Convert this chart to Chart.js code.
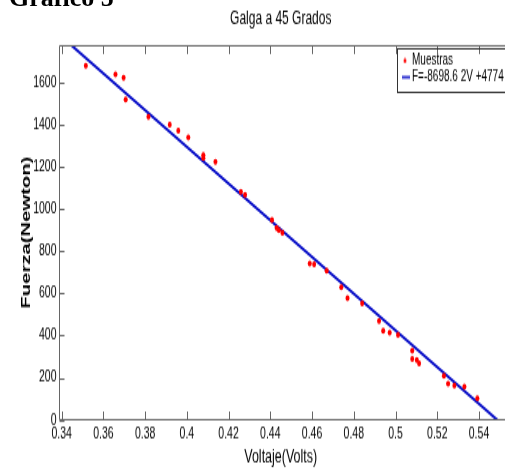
<!DOCTYPE html>
<html>
<head>
<meta charset="utf-8">
<script src="https://cdn.jsdelivr.net/npm/chart.js@4.4.1/dist/chart.umd.min.js"></script>
<style>
html,body{margin:0;padding:0;background:#fff;overflow:hidden;width:505px;height:470px;}
#wrap{position:absolute;left:0;top:0;width:505px;height:313px;transform-origin:0 0;transform:scale(1,1.5016);}
#heading{position:absolute;left:9px;top:-15px;font:bold 26px "Liberation Serif","Times New Roman",serif;line-height:26px;color:#000;white-space:nowrap;z-index:2;}
</style>
</head>
<body>
<div id="wrap"><canvas id="c" width="505" height="313" style="width:505px;height:313px"></canvas></div>
<div id="heading">Gráfico 5</div>
<script>
// ---- data ----
const voltaje = [0.3516,0.3658,0.3697,0.3707,0.3816,0.3918,0.3959,0.4007,0.4079,0.4079,0.4137,0.4259,0.4279,0.4408,0.4430,0.4441,0.4458,0.4589,0.4610,0.4670,0.4740,0.4770,0.4840,0.4921,0.4941,0.4972,0.5012,0.5080,0.5080,0.5102,0.5113,0.5232,0.5252,0.5282,0.5330,0.5392];
const fuerza = [1679,1639,1622,1519,1437,1399,1371,1339,1256,1241,1224,1082,1068,948,910,900,887,742,738,707,629,578,553,469,423,415,403,328,289,284,269,210,173,163,158,102];
const xTicks = [0.34,0.36,0.38,0.40,0.42,0.44,0.46,0.48,0.50,0.52,0.54];
const yTicks = [0,200,400,600,800,1000,1200,1400,1600];
const xLimits = [0.3385, 0.5515];
const yLimits = [0, 1777];
const fitSlope = -8698.62;
const fitIntercept = 4774;
const seriesNames = ['Muestras', 'F=-8698.6 2V +4774'];
const chartTitle = 'Galga a 45 Grados';
const xTitle = 'Voltaje(Volts)';
const yTitle = 'Fuerza(Newton)';

// ---- styles ----
const axisColor = '#666666';
const pointColor = '#ff0000';
const lineColor = '#0a10c8';
const sans = '"Liberation Sans", Arial, Helvetica, sans-serif';

const samples = voltaje.map((v, i) => ({x: v, y: fuerza[i]}));
const fitLine = xLimits.map(v => ({x: v, y: fitSlope * v + fitIntercept}));

// legend symbols
function makeDot() {
  const c = document.createElement('canvas');
  c.width = 4; c.height = 4;
  const g = c.getContext('2d');
  g.fillStyle = pointColor;
  g.beginPath(); g.arc(2, 2, 1.5, 0, Math.PI * 2); g.fill();
  return c;
}
function makeDash() {
  const c = document.createElement('canvas');
  c.width = 10; c.height = 4;
  const g = c.getContext('2d');
  g.fillStyle = lineColor;
  g.fillRect(0, 1.2, 10, 1.6);
  return c;
}
const dotSymbol = makeDot();
const dashSymbol = makeDash();

const frame = {
  id: 'frame',
  afterLayout(chart) {
    const lg = chart.legend;
    if (lg) {
      const w = lg.width;
      lg.left = 402; lg.right = 402 + w; lg.top = 34.4;
    }
  },
  afterDraw(chart) {
    const {ctx, chartArea: a, scales} = chart;
    const xs = scales.x, ys = scales.y;
    ctx.save();
    ctx.strokeStyle = axisColor;
    ctx.lineWidth = 1;
    ctx.beginPath();
    const L = Math.round(a.left) + 0.5, T = Math.round(a.top) + 0.5, B = Math.round(a.bottom) - 0.5;
    ctx.moveTo(a.right + 3, T); ctx.lineTo(L, T); ctx.lineTo(L, B); ctx.lineTo(a.right + 3, B);
    xTicks.forEach(v => {
      const px = Math.round(xs.getPixelForValue(v)) + 0.5;
      ctx.moveTo(px, B); ctx.lineTo(px, B - 5.5);
      ctx.moveTo(px, T); ctx.lineTo(px, T + 5.5);
    });
    yTicks.forEach(v => {
      const py = Math.round(ys.getPixelForValue(v)) + 0.5;
      ctx.moveTo(L, py); ctx.lineTo(L + 5, py);
    });
    ctx.stroke();
    const lg = chart.legend;
    if (lg) {
      ctx.strokeStyle = '#333333';
      ctx.strokeRect(Math.round(lg.left) - 4.5, 32.5, 130, 29);
    }
    ctx.restore();
  }
};

new Chart(document.getElementById('c'), {
  type: 'scatter',
  data: {
    datasets: [
      {
        label: seriesNames[0],
        data: samples,
        pointRadius: 2,
        pointHoverRadius: 2,
        pointBackgroundColor: pointColor,
        pointBorderWidth: 0,
        backgroundColor: pointColor,
        borderColor: pointColor,
        showLine: false
      },
      {
        type: 'line',
        label: seriesNames[1],
        data: fitLine,
        borderColor: lineColor,
        backgroundColor: lineColor,
        borderWidth: 2,
        pointRadius: 0,
        fill: false,
        tension: 0
      }
    ]
  },
  options: {
    responsive: false,
    maintainAspectRatio: false,
    animation: false,
    devicePixelRatio: 1,
    layout: {padding: 0},
    plugins: {
      tooltip: {enabled: false},
      title: {
        display: true,
        text: chartTitle,
        fullSize: false,
        color: '#000',
        font: {family: sans, size: 12, weight: 'normal'},
        padding: {top: 5.2, bottom: 10.4}
      },
      legend: {
        display: true,
        position: 'chartArea',
        align: 'start',
        labels: {
          usePointStyle: true,
          pointStyleWidth: 4,
          boxHeight: 4,
          padding: 1,
          color: '#000',
          font: {family: sans, size: 10},
          generateLabels: () => [
            {text: seriesNames[0], pointStyle: dotSymbol, fillStyle: pointColor, strokeStyle: pointColor, lineWidth: 0, fontColor: '#000', datasetIndex: 0, hidden: false},
            {text: seriesNames[1], pointStyle: dashSymbol, fillStyle: lineColor, strokeStyle: lineColor, lineWidth: 0, fontColor: '#000', datasetIndex: 1, hidden: false}
          ]
        }
      }
    },
    scales: {
      x: {
        type: 'linear',
        position: 'bottom',
        min: xLimits[0],
        max: xLimits[1],
        grid: {display: false, drawTicks: false},
        border: {display: false},
        afterBuildTicks: s => { s.ticks = xTicks.map(v => ({value: v})); },
        afterFit: s => { s.height = 33.3; },
        ticks: {
          color: '#000',
          padding: 3,
          maxRotation: 0,
          autoSkip: false,
          font: {family: sans, size: 10.5},
          callback: v => String(+Number(v).toFixed(2))
        },
        title: {
          display: true,
          text: xTitle,
          color: '#000',
          font: {family: sans, size: 12.5},
          padding: {top: 0, bottom: 0.5}
        }
      },
      y: {
        type: 'linear',
        position: 'left',
        min: yLimits[0],
        max: yLimits[1],
        grid: {display: false, drawTicks: false},
        border: {display: false},
        afterBuildTicks: s => { s.ticks = yTicks.map(v => ({value: v})); },
        afterFit: s => { s.width = 58.5; },
        ticks: {
          color: '#000',
          padding: 2,
          autoSkip: false,
          font: {family: sans, size: 10.5},
          callback: v => String(v)
        },
        title: {
          display: true,
          text: yTitle,
          color: '#000',
          font: {family: sans, size: 13.5, weight: 'bold'},
          padding: {top: 18.6, bottom: 0}
        }
      }
    }
  },
  plugins: [frame]
});
</script>
</body>
</html>
